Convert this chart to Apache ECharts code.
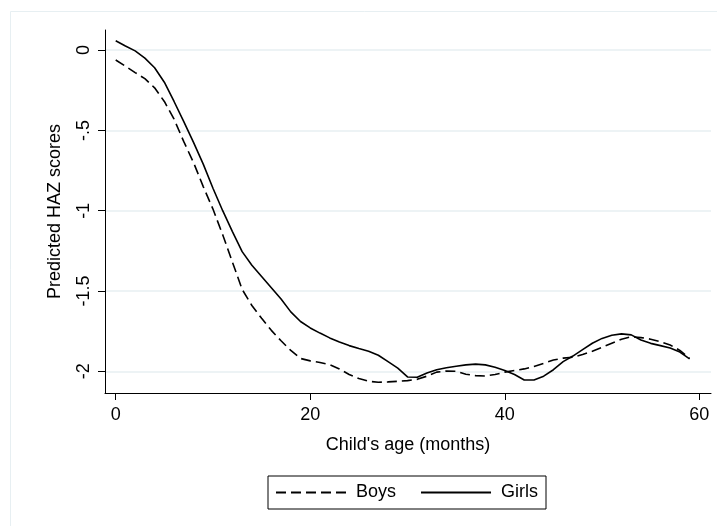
<!DOCTYPE html>
<html>
<head>
<meta charset="utf-8">
<title>Predicted HAZ scores by age</title>
<script src="https://cdn.jsdelivr.net/npm/echarts@6/dist/echarts.min.js"></script>
<style>
  html, body { margin: 0; padding: 0; background: #fff; }
  #chart { width: 717px; height: 526px; }
</style>
</head>
<body>
<div id="chart"></div>
<script>
// Child's age in months
const ages = [
  0, 1, 2, 3, 4, 5, 6, 7, 8, 9,
  10, 11, 12, 13, 14, 15, 16, 17, 18, 19,
  20, 21, 22, 23, 24, 25, 26, 27, 28, 29,
  30, 31, 32, 33, 34, 35, 36, 37, 38, 39,
  40, 41, 42, 43, 44, 45, 46, 47, 48, 49,
  50, 51, 52, 53, 54, 55, 56, 57, 58, 59
];

// Predicted height-for-age z-scores, boys
const boysHAZ = [
  -0.062, -0.100, -0.140, -0.178, -0.235, -0.320, -0.430, -0.570, -0.700, -0.850,
  -0.990, -1.150, -1.320, -1.490, -1.590, -1.670, -1.745, -1.810, -1.870, -1.920,
  -1.935, -1.945, -1.958, -1.985, -2.020, -2.045, -2.062, -2.068, -2.066, -2.062,
  -2.058, -2.050, -2.030, -2.005, -1.998, -2.000, -2.018, -2.027, -2.029, -2.020,
  -2.005, -1.995, -1.985, -1.970, -1.950, -1.930, -1.918, -1.912, -1.895, -1.875,
  -1.850, -1.825, -1.800, -1.785, -1.790, -1.800, -1.815, -1.836, -1.870, -1.920
];

// Predicted height-for-age z-scores, girls
const girlsHAZ = [
  0.058, 0.025, -0.005, -0.050, -0.110, -0.200, -0.320, -0.445, -0.575, -0.710,
  -0.860, -1.000, -1.130, -1.255, -1.340, -1.410, -1.480, -1.550, -1.630, -1.690,
  -1.730, -1.762, -1.792, -1.818, -1.840, -1.858, -1.875, -1.900, -1.940, -1.980,
  -2.035, -2.037, -2.010, -1.990, -1.978, -1.968, -1.960, -1.955, -1.960, -1.975,
  -1.995, -2.020, -2.054, -2.054, -2.030, -1.990, -1.940, -1.905, -1.865, -1.825,
  -1.795, -1.775, -1.767, -1.773, -1.805, -1.826, -1.840, -1.855, -1.880, -1.923
];

// Axis ticks and their printed labels
const xTicks = [0, 20, 40, 60];
const yTicks = [-2, -1.5, -1, -0.5, 0];
const yTickLabels = ['-2', '-1.5', '-1', '-.5', '0'];

const FONT = '"Liberation Sans", Arial, Helvetica, sans-serif';
const GRID_COLOR = '#e7eff2';

function pairs(xs, ys) {
  return xs.map((x, i) => [x, ys[i]]);
}

const chart = echarts.init(document.getElementById('chart'), null, { renderer: 'canvas' });

chart.setOption({
  animation: false,
  backgroundColor: '#ffffff',
  textStyle: { fontFamily: FONT, color: '#000' },
  graphic: [
    {
      // outer graph-region outline
      type: 'rect',
      silent: true,
      z: -10,
      shape: { x: 10.5, y: 11.5, width: 760, height: 560 },
      style: { fill: 'none', stroke: GRID_COLOR, lineWidth: 1 }
    }
  ],
  grid: { left: 105, right: 6, top: 30, bottom: 133, containLabel: false },
  legend: {
    left: 268,
    top: 476,
    orient: 'horizontal',
    padding: [6, 8, 6, 7],
    borderColor: '#000',
    borderWidth: 1,
    borderRadius: 0,
    itemWidth: 70,
    itemHeight: 14,
    itemGap: 24,
    data: ['Boys', 'Girls'],
    itemStyle: { opacity: 0, borderWidth: 0 },
    textStyle: {
      fontFamily: FONT,
      fontSize: 18,
      color: '#000',
      lineHeight: 21,
      padding: [0, 0, 0, 5]
    }
  },
  xAxis: {
    type: 'value',
    min: -1.1,
    max: 61.2,
    name: "Child's age (months)",
    nameLocation: 'middle',
    nameGap: 43,
    nameTextStyle: { fontFamily: FONT, fontSize: 18, color: '#000' },
    axisLine: { show: true, onZero: false, lineStyle: { color: '#000', width: 1 } },
    axisTick: {
      show: true,
      length: 7,
      customValues: xTicks,
      lineStyle: { color: '#000', width: 1 }
    },
    axisLabel: {
      customValues: xTicks,
      margin: 13,
      fontFamily: FONT,
      fontSize: 18,
      color: '#000'
    },
    splitLine: { show: false }
  },
  yAxis: {
    type: 'value',
    min: -2.135,
    max: 0.125,
    name: 'Predicted HAZ scores',
    nameLocation: 'middle',
    nameRotate: 90,
    nameGap: 41,
    nameTextStyle: { fontFamily: FONT, fontSize: 18, color: '#000' },
    axisLine: { show: true, onZero: false, lineStyle: { color: '#000', width: 1 } },
    axisTick: {
      show: true,
      length: 7,
      customValues: yTicks,
      lineStyle: { color: '#000', width: 1 }
    },
    axisLabel: {
      customValues: yTicks,
      rotate: 90,
      margin: 12,
      fontFamily: FONT,
      fontSize: 18,
      color: '#000',
      formatter: function (v) {
        const i = yTicks.findIndex(t => Math.abs(t - v) < 1e-9);
        return i >= 0 ? yTickLabels[i] : '';
      }
    },
    splitLine: {
      show: true,
      lineStyle: { color: GRID_COLOR, width: 1.5 }
    }
  },
  series: [
    {
      name: 'Boys',
      type: 'line',
      data: pairs(ages, boysHAZ),
      symbol: 'none',
      smooth: false,
      color: '#000',
      lineStyle: { color: '#000', width: 1.6, type: [10, 5] }
    },
    {
      name: 'Girls',
      type: 'line',
      data: pairs(ages, girlsHAZ),
      symbol: 'none',
      smooth: false,
      color: '#000',
      lineStyle: { color: '#000', width: 1.6, type: 'solid' }
    }
  ]
});
</script>
</body>
</html>
